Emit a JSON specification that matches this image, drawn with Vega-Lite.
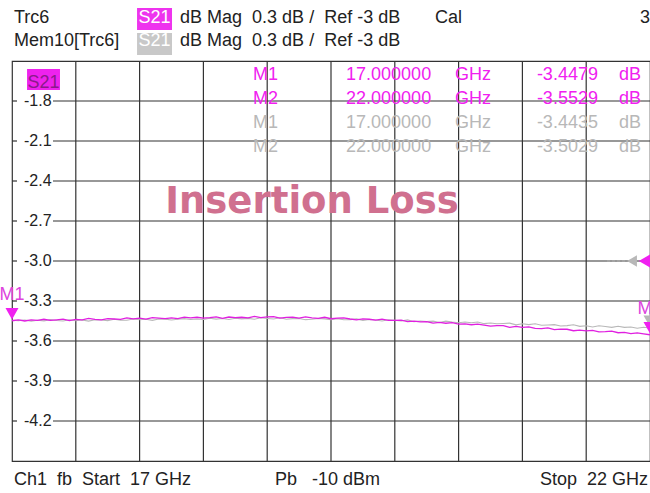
{
  "$schema": "https://vega.github.io/schema/vega-lite/v6.json",
  "width": 638,
  "height": 400,
  "autosize": {"type": "none"},
  "padding": {"left": 12, "top": 61, "right": 0, "bottom": 32},
  "background": "white",
  "config": {"view": {"stroke": "#333333", "strokeWidth": 1.2}, "text": {"font": "Liberation Sans"}},
  "datasets": {
    "trace": [
      {"f":17.00,"m":-3.448,"g":-3.444},{"f":17.05,"m":-3.441,"g":-3.447},{"f":17.10,"m":-3.450,"g":-3.442},{"f":17.15,"m":-3.441,"g":-3.451},
      {"f":17.20,"m":-3.446,"g":-3.444},{"f":17.25,"m":-3.437,"g":-3.449},{"f":17.30,"m":-3.446,"g":-3.440},{"f":17.35,"m":-3.441,"g":-3.446},
      {"f":17.40,"m":-3.436,"g":-3.450},{"f":17.45,"m":-3.447,"g":-3.441},{"f":17.50,"m":-3.438,"g":-3.448},{"f":17.55,"m":-3.442,"g":-3.443},
      {"f":17.60,"m":-3.431,"g":-3.451},{"f":17.65,"m":-3.438,"g":-3.441},{"f":17.70,"m":-3.441,"g":-3.443},{"f":17.75,"m":-3.432,"g":-3.447},
      {"f":17.80,"m":-3.435,"g":-3.437},{"f":17.85,"m":-3.438,"g":-3.444},{"f":17.90,"m":-3.427,"g":-3.444},{"f":17.95,"m":-3.434,"g":-3.435},
      {"f":18.00,"m":-3.428,"g":-3.441},{"f":18.05,"m":-3.436,"g":-3.437},{"f":18.10,"m":-3.425,"g":-3.445},{"f":18.15,"m":-3.428,"g":-3.435},
      {"f":18.20,"m":-3.432,"g":-3.436},{"f":18.25,"m":-3.426,"g":-3.443},{"f":18.30,"m":-3.432,"g":-3.437},{"f":18.35,"m":-3.421,"g":-3.432},
      {"f":18.40,"m":-3.427,"g":-3.439},{"f":18.45,"m":-3.422,"g":-3.435},{"f":18.50,"m":-3.429,"g":-3.439},{"f":18.55,"m":-3.425,"g":-3.429},
      {"f":18.60,"m":-3.419,"g":-3.436},{"f":18.65,"m":-3.430,"g":-3.431},{"f":18.70,"m":-3.420,"g":-3.439},{"f":18.75,"m":-3.425,"g":-3.429},
      {"f":18.80,"m":-3.422,"g":-3.434},{"f":18.85,"m":-3.427,"g":-3.430},{"f":18.90,"m":-3.415,"g":-3.437},{"f":18.95,"m":-3.424,"g":-3.426},
      {"f":19.00,"m":-3.419,"g":-3.431},{"f":19.05,"m":-3.418,"g":-3.435},{"f":19.10,"m":-3.428,"g":-3.426},{"f":19.15,"m":-3.423,"g":-3.437},
      {"f":19.20,"m":-3.421,"g":-3.432},{"f":19.25,"m":-3.429,"g":-3.431},{"f":19.30,"m":-3.419,"g":-3.440},{"f":19.35,"m":-3.427,"g":-3.437},
      {"f":19.40,"m":-3.430,"g":-3.431},{"f":19.45,"m":-3.422,"g":-3.434},{"f":19.50,"m":-3.433,"g":-3.441},{"f":19.55,"m":-3.428,"g":-3.432},
      {"f":19.60,"m":-3.427,"g":-3.441},{"f":19.65,"m":-3.435,"g":-3.440},{"f":19.70,"m":-3.441,"g":-3.434},{"f":19.75,"m":-3.434,"g":-3.445},
      {"f":19.80,"m":-3.437,"g":-3.439},{"f":19.85,"m":-3.444,"g":-3.443},{"f":19.90,"m":-3.436,"g":-3.450},{"f":19.95,"m":-3.446,"g":-3.441},
      {"f":20.00,"m":-3.445,"g":-3.444},{"f":20.05,"m":-3.443,"g":-3.450},{"f":20.10,"m":-3.455,"g":-3.442},{"f":20.15,"m":-3.451,"g":-3.455},
      {"f":20.20,"m":-3.456,"g":-3.450},{"f":20.25,"m":-3.454,"g":-3.455},{"f":20.30,"m":-3.466,"g":-3.451},{"f":20.35,"m":-3.460,"g":-3.461},
      {"f":20.40,"m":-3.467,"g":-3.451},{"f":20.45,"m":-3.462,"g":-3.458},{"f":20.50,"m":-3.474,"g":-3.463},{"f":20.55,"m":-3.472,"g":-3.457},
      {"f":20.60,"m":-3.478,"g":-3.463},{"f":20.65,"m":-3.473,"g":-3.458},{"f":20.70,"m":-3.481,"g":-3.470},{"f":20.75,"m":-3.489,"g":-3.465},
      {"f":20.80,"m":-3.484,"g":-3.471},{"f":20.85,"m":-3.485,"g":-3.469},{"f":20.90,"m":-3.498,"g":-3.466},{"f":20.95,"m":-3.491,"g":-3.479},
      {"f":21.00,"m":-3.498,"g":-3.471},{"f":21.05,"m":-3.494,"g":-3.477},{"f":21.10,"m":-3.505,"g":-3.471},{"f":21.15,"m":-3.507,"g":-3.482},
      {"f":21.20,"m":-3.502,"g":-3.480},{"f":21.25,"m":-3.514,"g":-3.477},{"f":21.30,"m":-3.511,"g":-3.487},{"f":21.35,"m":-3.512,"g":-3.485},
      {"f":21.40,"m":-3.523,"g":-3.478},{"f":21.45,"m":-3.518,"g":-3.490},{"f":21.50,"m":-3.524,"g":-3.486},{"f":21.55,"m":-3.520,"g":-3.495},
      {"f":21.60,"m":-3.531,"g":-3.486},{"f":21.65,"m":-3.530,"g":-3.491},{"f":21.70,"m":-3.526,"g":-3.498},{"f":21.75,"m":-3.538,"g":-3.489},
      {"f":21.80,"m":-3.536,"g":-3.498},{"f":21.85,"m":-3.545,"g":-3.495},{"f":21.90,"m":-3.539,"g":-3.504},{"f":21.95,"m":-3.546,"g":-3.497},
      {"f":22.00,"m":-3.553,"g":-3.503}
    ],
    "vgrid": [{"f":17.5},{"f":18.0},{"f":18.5},{"f":19.0},{"f":19.5},{"f":20.0},{"f":20.5},{"f":21.0},{"f":21.5}],
    "hgrid": [{"v":-1.8,"t":"-1.8"},{"v":-2.1,"t":"-2.1"},{"v":-2.4,"t":"-2.4"},{"v":-2.7,"t":"-2.7"},{"v":-3.0,"t":"-3.0"},{"v":-3.3,"t":"-3.3"},{"v":-3.6,"t":"-3.6"},{"v":-3.9,"t":"-3.9"},{"v":-4.2,"t":"-4.2"}],
    "mtable": [
      {"row":1,"name":"M1","freq":"17.000000","unit":"GHz","val":"-3.4479","vu":"dB","trace":"Trc6"},
      {"row":2,"name":"M2","freq":"22.000000","unit":"GHz","val":"-3.5529","vu":"dB","trace":"Trc6"},
      {"row":3,"name":"M1","freq":"17.000000","unit":"GHz","val":"-3.4435","vu":"dB","trace":"Mem10"},
      {"row":4,"name":"M2","freq":"22.000000","unit":"GHz","val":"-3.5029","vu":"dB","trace":"Mem10"}
    ],
    "markers": [
      {"f":17.0,"v":-3.448,"name":"M1","trace":"Trc6"},
      {"f":22.0,"v":-3.503,"name":"M2","trace":"Mem10"},
      {"f":22.0,"v":-3.553,"name":"M2","trace":"Trc6"}
    ],
    "one": [{}]
  },
  "resolve": {"scale": {"y": "independent"}},
  "layer": [
    {
      "layer": [
        {
          "data": {"name": "vgrid"},
          "mark": {"type": "rule", "color": "#333333", "strokeWidth": 1.2},
          "encoding": {
            "x": {"field": "f", "type": "quantitative", "scale": {"domain": [17, 22], "nice": false, "zero": false}, "axis": null}
          }
        },
        {
          "data": {"name": "hgrid"},
          "mark": {"type": "rule", "color": "#333333", "strokeWidth": 1.2},
          "encoding": {
            "y": {"field": "v", "type": "quantitative", "scale": {"domain": [-4.5, -1.5], "nice": false, "zero": false}, "axis": null},
            "x": {"datum": 17.321, "type": "quantitative", "axis": null},
            "x2": {"datum": 22}
          }
        },
        {
          "data": {"name": "hgrid"},
          "mark": {"type": "rule", "color": "#333333", "strokeWidth": 1.2},
          "encoding": {
            "y": {"field": "v", "type": "quantitative", "axis": null},
            "x": {"datum": 17.0, "type": "quantitative", "axis": null},
            "x2": {"datum": 17.039}
          }
        },
        {
          "data": {"name": "hgrid"},
          "mark": {"type": "text", "align": "left", "baseline": "middle", "fontSize": 16, "color": "#222222"},
          "encoding": {
            "y": {"field": "v", "type": "quantitative", "axis": null},
            "x": {"datum": 17.094, "type": "quantitative", "axis": null},
            "text": {"field": "t"}
          }
        },
        {
          "data": {"name": "one"},
          "mark": {"type": "text", "align": "center", "baseline": "alphabetic", "fontSize": 37, "font": "DejaVu Sans", "fontWeight": "bold", "color": "#d0708f", "text": "Insertion Loss"},
          "encoding": {"x": {"datum": 19.351, "type": "quantitative", "axis": null}, "y": {"datum": -2.64, "type": "quantitative", "axis": null}}
        },
        {
          "data": {"name": "trace"},
          "mark": {"type": "line", "color": "#b8b8b8", "strokeWidth": 1.1},
          "encoding": {
            "x": {"field": "f", "type": "quantitative", "axis": null},
            "y": {"field": "g", "type": "quantitative", "axis": null}
          }
        },
        {
          "data": {"name": "trace"},
          "mark": {"type": "line", "color": "#e020e0", "strokeWidth": 1.3},
          "encoding": {
            "x": {"field": "f", "type": "quantitative", "axis": null},
            "y": {"field": "m", "type": "quantitative", "axis": null}
          }
        },
        {
          "data": {"name": "one"},
          "mark": {"type": "rule", "color": "#b0b0b0", "strokeWidth": 1.2, "strokeDash": [3, 2]},
          "encoding": {"x": {"datum": 21.663, "type": "quantitative", "axis": null}, "x2": {"datum": 21.804}, "y": {"datum": -3.0, "type": "quantitative", "axis": null}}
        },
        {
          "data": {"name": "one"},
          "mark": {"type": "point", "shape": "triangle-left", "filled": true, "opacity": 1, "color": "#b8b8b8", "size": 130},
          "encoding": {"x": {"datum": 21.859, "type": "quantitative", "axis": null}, "y": {"datum": -3.0, "type": "quantitative", "axis": null}}
        },
        {
          "data": {"name": "one"},
          "mark": {"type": "point", "shape": "triangle-left", "filled": true, "opacity": 1, "color": "#f020f0", "size": 240},
          "encoding": {"x": {"datum": 21.965, "type": "quantitative", "axis": null}, "y": {"datum": -3.0, "type": "quantitative", "axis": null}}
        },
        {
          "data": {"name": "markers"},
          "mark": {"type": "point", "shape": "triangle-down", "filled": true, "opacity": 1, "size": 170, "yOffset": -7},
          "encoding": {
            "x": {"field": "f", "type": "quantitative", "axis": null},
            "y": {"field": "v", "type": "quantitative", "axis": null},
            "color": {"field": "trace", "type": "nominal", "scale": {"domain": ["Trc6", "Mem10"], "range": ["#f020f0", "#b8b8b8"]}, "legend": null}
          }
        },
        {
          "data": {"name": "markers"},
          "transform": [{"filter": "datum.trace == 'Trc6'"}],
          "mark": {"type": "text", "align": "center", "baseline": "middle", "fontSize": 18, "color": "#dd44dd", "dy": -26},
          "encoding": {
            "x": {"field": "f", "type": "quantitative", "axis": null},
            "y": {"field": "v", "type": "quantitative", "axis": null},
            "text": {"field": "name"}
          }
        },
        {
          "data": {"name": "one"},
          "mark": {"type": "rect", "color": "#ee22ee"},
          "encoding": {"x": {"datum": 17.118, "type": "quantitative", "axis": null}, "x2": {"datum": 17.376}, "y": {"datum": -1.56, "type": "quantitative", "axis": null}, "y2": {"datum": -1.7175}}
        },
        {
          "data": {"name": "one"},
          "mark": {"type": "text", "align": "center", "baseline": "alphabetic", "fontSize": 18, "color": "#8a1a8a", "text": "S21"},
          "encoding": {"x": {"datum": 17.247, "type": "quantitative", "axis": null}, "y": {"datum": -1.7025, "type": "quantitative", "axis": null}}
        },
        {
          "data": {"name": "one"},
          "mark": {"type": "rect", "color": "#ee33ee"},
          "encoding": {"x": {"datum": 17.98, "type": "quantitative", "axis": null}, "x2": {"datum": 18.254}, "y": {"datum": -1.1025, "type": "quantitative", "axis": null}, "y2": {"datum": -1.2675}}
        },
        {
          "data": {"name": "one"},
          "mark": {"type": "rect", "color": "#c8c8c8"},
          "encoding": {"x": {"datum": 17.98, "type": "quantitative", "axis": null}, "x2": {"datum": 18.254}, "y": {"datum": -1.29, "type": "quantitative", "axis": null}, "y2": {"datum": -1.455}}
        },
        {
          "data": {"name": "one"},
          "mark": {"type": "text", "align": "center", "baseline": "alphabetic", "fontSize": 18, "color": "#ffffff", "text": "S21"},
          "encoding": {"x": {"datum": 18.117, "type": "quantitative", "axis": null}, "y": {"datum": -1.215, "type": "quantitative", "axis": null}}
        },
        {
          "data": {"name": "one"},
          "mark": {"type": "text", "align": "center", "baseline": "alphabetic", "fontSize": 18, "color": "#ffffff", "text": "S21"},
          "encoding": {"x": {"datum": 18.117, "type": "quantitative", "axis": null}, "y": {"datum": -1.391, "type": "quantitative", "axis": null}}
        },
        {
          "data": {"name": "one"},
          "mark": {"type": "text", "align": "left", "baseline": "alphabetic", "fontSize": 18, "color": "#222222", "text": "Trc6"},
          "encoding": {"x": {"datum": 17.0157, "type": "quantitative", "axis": null}, "y": {"datum": -1.215, "type": "quantitative", "axis": null}}
        },
        {
          "data": {"name": "one"},
          "mark": {"type": "text", "align": "left", "baseline": "alphabetic", "fontSize": 18, "color": "#222222", "text": "dB Mag\u00a0 0.3 dB /\u00a0 Ref -3 dB"},
          "encoding": {"x": {"datum": 18.317, "type": "quantitative", "axis": null}, "y": {"datum": -1.215, "type": "quantitative", "axis": null}}
        },
        {
          "data": {"name": "one"},
          "mark": {"type": "text", "align": "left", "baseline": "alphabetic", "fontSize": 18, "color": "#222222", "text": "Cal"},
          "encoding": {"x": {"datum": 20.315, "type": "quantitative", "axis": null}, "y": {"datum": -1.215, "type": "quantitative", "axis": null}}
        },
        {
          "data": {"name": "one"},
          "mark": {"type": "text", "align": "left", "baseline": "alphabetic", "fontSize": 18, "color": "#222222", "text": "3"},
          "encoding": {"x": {"datum": 21.922, "type": "quantitative", "axis": null}, "y": {"datum": -1.215, "type": "quantitative", "axis": null}}
        },
        {
          "data": {"name": "one"},
          "mark": {"type": "text", "align": "left", "baseline": "alphabetic", "fontSize": 18, "color": "#222222", "text": "Mem10[Trc6]"},
          "encoding": {"x": {"datum": 17.0157, "type": "quantitative", "axis": null}, "y": {"datum": -1.391, "type": "quantitative", "axis": null}}
        },
        {
          "data": {"name": "one"},
          "mark": {"type": "text", "align": "left", "baseline": "alphabetic", "fontSize": 18, "color": "#222222", "text": "dB Mag\u00a0 0.3 dB /\u00a0 Ref -3 dB"},
          "encoding": {"x": {"datum": 18.317, "type": "quantitative", "axis": null}, "y": {"datum": -1.391, "type": "quantitative", "axis": null}}
        },
        {
          "data": {"name": "one"},
          "mark": {"type": "text", "align": "left", "baseline": "alphabetic", "fontSize": 18, "color": "#222222", "text": "Ch1\u00a0 fb\u00a0 Start\u00a0 17 GHz"},
          "encoding": {"x": {"datum": 17.0157, "type": "quantitative", "axis": null}, "y": {"datum": -4.68, "type": "quantitative", "axis": null}}
        },
        {
          "data": {"name": "one"},
          "mark": {"type": "text", "align": "left", "baseline": "alphabetic", "fontSize": 18, "color": "#222222", "text": "Pb\u00a0 \u00a0-10 dBm"},
          "encoding": {"x": {"datum": 19.061, "type": "quantitative", "axis": null}, "y": {"datum": -4.68, "type": "quantitative", "axis": null}}
        },
        {
          "data": {"name": "one"},
          "mark": {"type": "text", "align": "right", "baseline": "alphabetic", "fontSize": 18, "color": "#222222", "text": "Stop\u00a0 22 GHz"},
          "encoding": {"x": {"datum": 21.984, "type": "quantitative", "axis": null}, "y": {"datum": -4.68, "type": "quantitative", "axis": null}}
        }
      ]
    },
    {
      "data": {"name": "mtable"},
      "encoding": {
        "y": {"field": "row", "type": "quantitative", "scale": {"domain": [0.2083, 16.875], "reverse": true, "nice": false, "zero": false}, "axis": null},
        "color": {"field": "trace", "type": "nominal", "scale": {"domain": ["Trc6", "Mem10"], "range": ["#dd44dd", "#c4c4c4"]}, "legend": null}
      },
      "layer": [
        {"mark": {"type": "text", "align": "left", "baseline": "alphabetic", "fontSize": 18}, "encoding": {"x": {"datum": 18.889, "type": "quantitative", "axis": null}, "text": {"field": "name"}}},
        {"mark": {"type": "text", "align": "left", "baseline": "alphabetic", "fontSize": 18}, "encoding": {"x": {"datum": 19.618, "type": "quantitative", "axis": null}, "text": {"field": "freq"}}},
        {"mark": {"type": "text", "align": "left", "baseline": "alphabetic", "fontSize": 18}, "encoding": {"x": {"datum": 20.472, "type": "quantitative", "axis": null}, "text": {"field": "unit"}}},
        {"mark": {"type": "text", "align": "right", "baseline": "alphabetic", "fontSize": 18}, "encoding": {"x": {"datum": 21.592, "type": "quantitative", "axis": null}, "text": {"field": "val"}}},
        {"mark": {"type": "text", "align": "left", "baseline": "alphabetic", "fontSize": 18}, "encoding": {"x": {"datum": 21.757, "type": "quantitative", "axis": null}, "text": {"field": "vu"}}}
      ]
    }
  ]
}
